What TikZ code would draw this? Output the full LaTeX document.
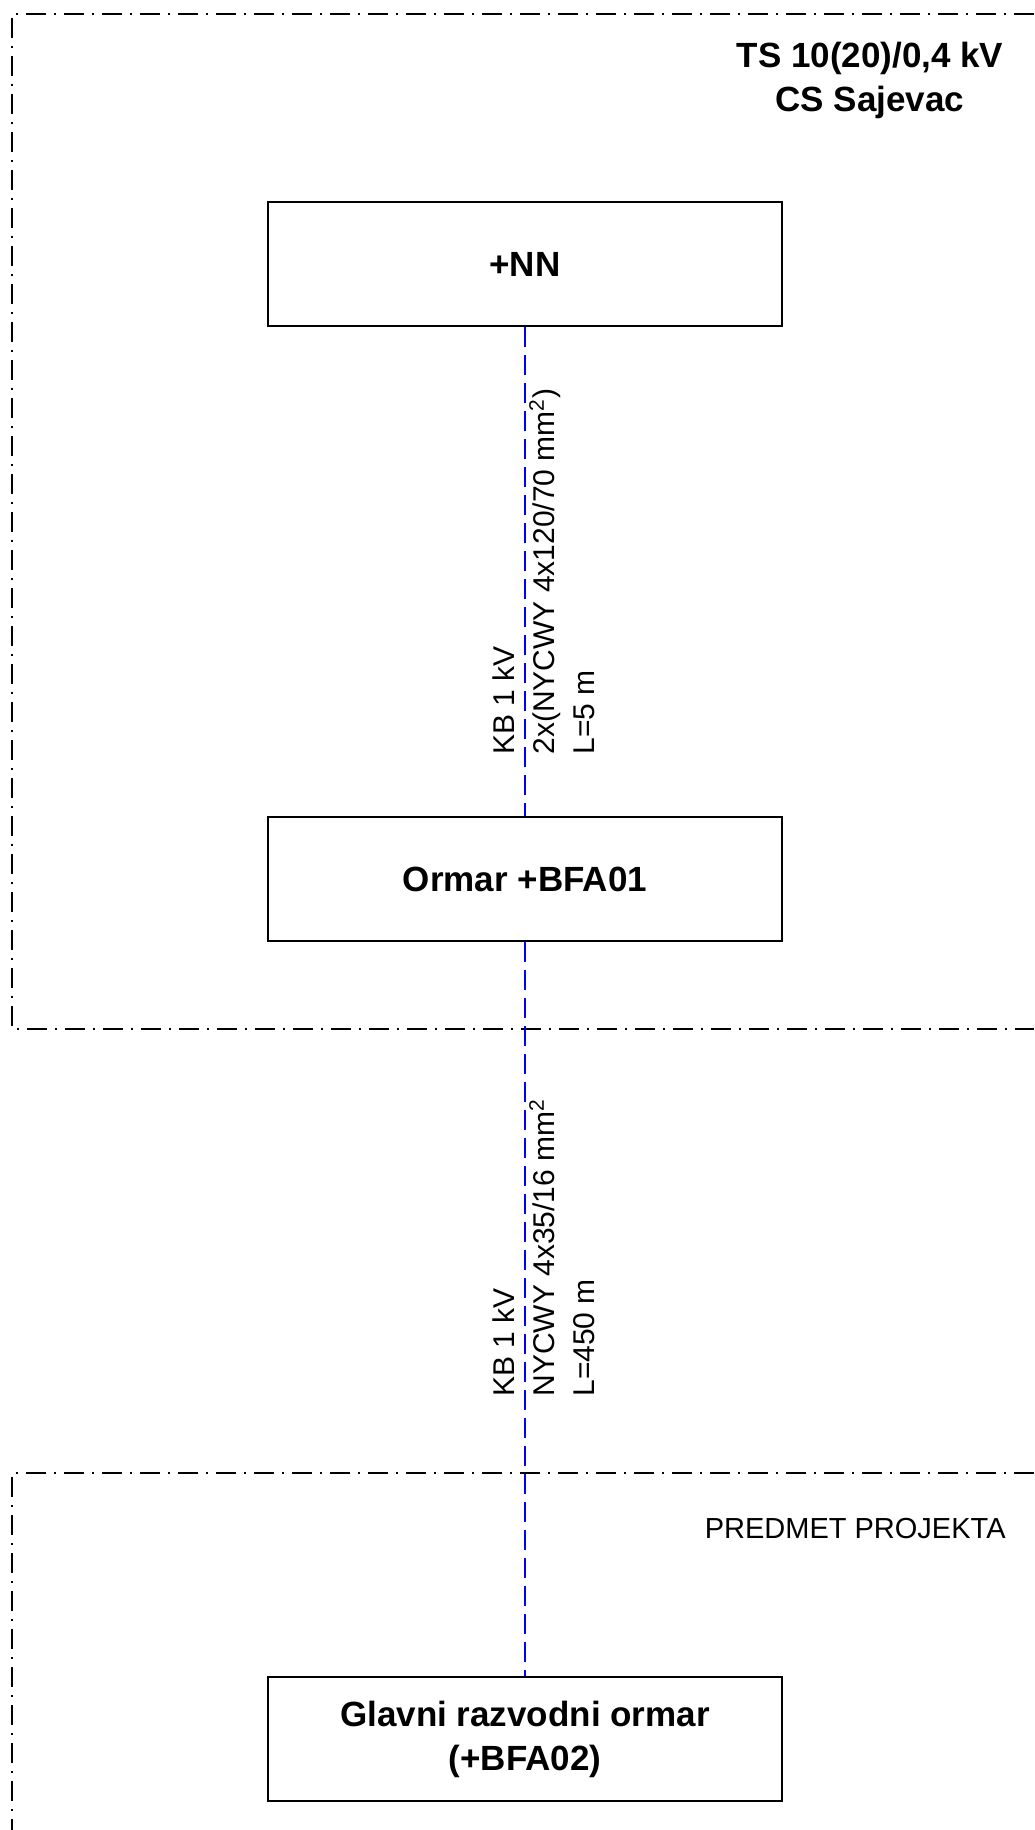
\documentclass[tikz,border=0pt]{standalone}
\usepackage{fontspec}
\setmainfont{Liberation Sans}
\begin{document}
\begin{tikzpicture}[x=0.5pt, y=-0.5pt,
    box/.style={draw, line width=1pt, minimum width=257pt, minimum height=62pt, inner sep=0pt, align=center, font=\bfseries\fontsize{17.5}{22}\selectfont},
    frame/.style={line width=1pt, dash pattern=on 10pt off 4pt on 1pt off 4pt},
    cable/.style={blue, line width=1pt, dash pattern=on 10pt off 4pt},
    cablelabel/.style={rotate=90, anchor=south west, inner sep=0pt, align=left, font=\fontsize{15}{20}\selectfont}]
    \useasboundingbox (0, 0) rectangle (1034, 1830);
    % frames
    \draw [frame] (1034, 14) -- (12, 14) -- (12, 1029) -- (1034, 1029);
    \draw [frame] (1034, 1473) -- (12, 1473) -- (12, 1830);
    \node [align=center, font=\bfseries\fontsize{17.5}{22}\selectfont] (ts) at (870, 80) {TS 10(20)/0,4 kV\\CS Sajevac};
    \node [anchor=base east, inner sep=0pt, font=\fontsize{14.5}{17}\selectfont] (predmet) at (1006, 1538) {PREDMET PROJEKTA};
    % boxes
    \node [box] (nn) at (525, 264) {+NN};
    \node [box] (bfa01) at (525, 879) {Ormar +BFA01};
    \node [box] (bfa02) at (525, 1739) {Glavni razvodni ormar\\(+BFA02)};
    % cables
    \draw [cable] (nn) -- (bfa01);
    \draw [cable] (bfa01) -- (bfa02);
    \node [cablelabel] (kb1) at (595, 755) {KB 1 kV\\2x(NYCWY 4x120/70 mm\textsuperscript{2})\\L=5 m};
    \node [cablelabel] (kb2) at (595, 1397) {KB 1 kV\\NYCWY 4x35/16 mm\textsuperscript{2}\\L=450 m};
\end{tikzpicture}
\end{document}
